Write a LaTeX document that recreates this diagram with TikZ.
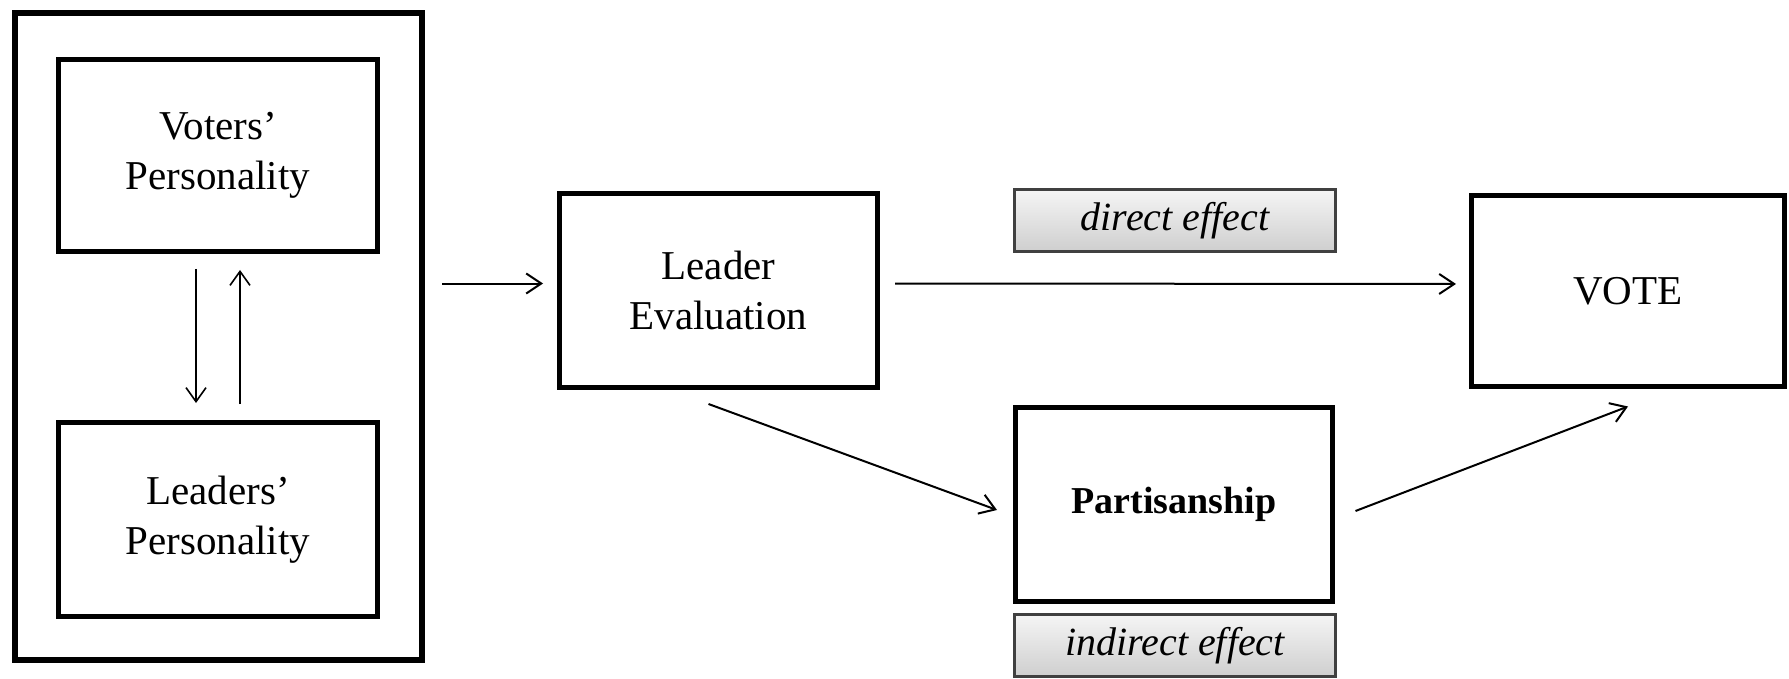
\documentclass[tikz,border=0pt]{standalone}
\usepackage{fontspec}
\setmainfont{Liberation Serif}
\usetikzlibrary{arrows.meta,calc}
\begin{document}
\begin{tikzpicture}[x=1pt,y=-1pt,
  box/.style={draw=black,line width=5pt,fill=white,align=center,inner sep=0pt,
    font=\fontsize{41}{50}\selectfont},
  tag/.style={draw=black!75,line width=2.5pt,top color=gray!8,bottom color=gray!38,
    inner sep=0pt,minimum width=321pt,minimum height=62pt,
    font=\fontsize{40}{46}\selectfont\itshape},
  arr/.style={line width=2pt,-{Straight Barb[length=15pt,width=20pt]}},
  thinarr/.style={line width=1.6pt,-{Straight Barb[length=14pt,width=20pt]}}]
\useasboundingbox (0,0) rectangle (1789,679);
\node[draw=black,line width=6pt,minimum width=407pt,minimum height=647pt,inner sep=0pt] (outer) at (218.5,336.5) {};
\node[box,minimum width=319pt,minimum height=192pt] (voters) at (218,155.5) {Voters’\\Personality};
\node[box,minimum width=319pt,minimum height=194pt] (leaders) at (218,519.5) {Leaders’\\Personality};
\node[box,minimum width=318pt,minimum height=194pt] (leval) at (718.5,290.5) {Leader\\Evaluation};
\node[box,minimum width=313pt,minimum height=191pt] (vote) at (1628,291) {VOTE};
\node[box,minimum width=317pt,minimum height=194pt,font=\fontsize{38}{46}\selectfont\bfseries] (part) at (1174,504.5) {Partisanship};
\node[tag] (direct) at (1175,220.5) {direct effect};
\node[tag] (indirect) at (1175,645.5) {indirect effect};
\coordinate (inlev) at ([yshift=7pt]leval.west);
\draw[thinarr,shorten <=15pt,shorten >=17pt] ([xshift=-22pt]voters.south) -- ([xshift=-22pt]leaders.north);
\draw[thinarr,shorten <=16pt,shorten >=16pt] ([xshift=22pt]leaders.north) -- ([xshift=22pt]voters.south);
\draw[arr,shorten <=17pt,shorten >=14pt] (outer.east |- inlev) -- (inlev);
\draw[arr,shorten <=15pt,shorten >=13pt] ([yshift=7pt]leval.east) -- ([yshift=7pt]vote.west);
\draw[arr] ($(leval.south)+(-10,14)$) -- ($(part.west)+(-16,5.5)$);
\draw[arr] ($(part.east)+(20.5,6.5)$) -- ($(vote.south)+(0,17.5)$);
\end{tikzpicture}
\end{document}
